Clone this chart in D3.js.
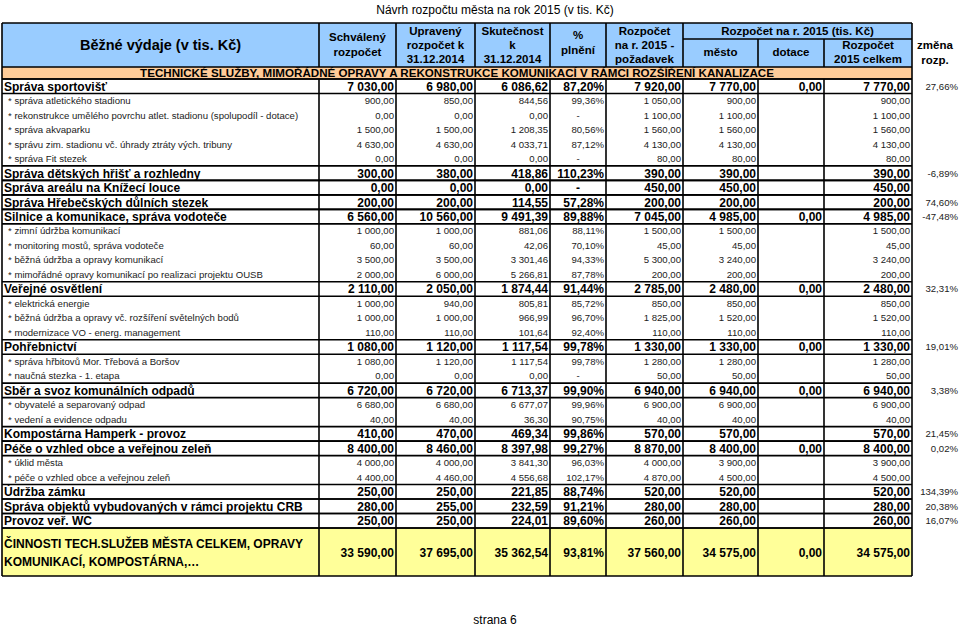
<!DOCTYPE html>
<html><head><meta charset="utf-8">
<script src="https://cdn.jsdelivr.net/npm/d3@7"></script>
<style>body{margin:0;background:#fff}svg{display:block;font-family:"Liberation Sans",Arial,Helvetica,sans-serif}</style>
</head><body><svg id="c" width="960" height="626"></svg>
<script>
// ---------------- DATA ----------------
const pageTitle = "Návrh rozpočtu města na rok 2015 (v tis. Kč)";
const sectionTitle = "TECHNICKÉ SLUŽBY, MIMOŘÁDNÉ OPRAVY A REKONSTRUKCE KOMUNIKACÍ V RÁMCI ROZŠÍŘENÍ KANALIZACE";
const footerText = "strana 6";
const mainHeader = "Běžné výdaje (v tis. Kč)";
const colHeaders = [
  ["Schválený", "rozpočet"],
  ["Upravený", "rozpočet k", "31.12.2014"],
  ["Skutečnost", "k", "31.12.2014"],
  ["%", "plnění"],
  ["Rozpočet", "na r. 2015 -", "požadavek"]
];
const groupHeader = "Rozpočet na r. 2015 (tis. Kč)";
const subHeaders = [["město"], ["dotace"], ["Rozpočet", "2015 celkem"]];
const changeHeader = ["změna", "rozp."];

const labels = [
  "Správa sportovišť",
  "* správa atletického stadionu",
  "* rekonstrukce umělého povrchu atlet. stadionu (spolupodíl - dotace)",
  "* správa akvaparku",
  "* správu zim. stadionu vč. úhrady ztráty  vých. tribuny",
  "* správa Fit stezek",
  "Správa dětských hřišť a rozhledny",
  "Správa areálu na Knížecí louce",
  "Správa Hřebečských důlních stezek",
  "Silnice a komunikace, správa vodoteče",
  "* zimní údržba komunikací",
  "* monitoring mostů, správa vodoteče",
  "* běžná údržba a opravy komunikací",
  "* mimořádné opravy komunikací po realizaci projektu OUSB",
  "Veřejné osvětlení",
  "* elektrická energie",
  "* běžná údržba a opravy vč. rozšíření světelných bodů",
  "* modernizace VO - energ. management",
  "Pohřebnictví",
  "* správa hřbitovů  Mor. Třebová a Boršov",
  "* naučná stezka - 1. etapa",
  "Sběr a svoz komunálních odpadů",
  "* obyvatelé a separovaný odpad",
  "* vedení a evidence odpadu",
  "Kompostárna Hamperk - provoz",
  "Péče o vzhled obce a veřejnou zeleň",
  "* úklid města",
  "* péče o vzhled obce a veřejnou zeleň",
  "Údržba zámku",
  "Správa objektů vybudovaných v rámci projektu CRB",
  "Provoz veř. WC"
];
const isGroup = [1,0,0,0,0,0,1,1,1,1,0,0,0,0,1,0,0,0,1,0,0,1,0,0,1,1,0,0,1,1,1];
const schvaleny  = [7030,900,0,1500,4630,0,300,0,200,6560,1000,60,3500,2000,2110,1000,1000,110,1080,1080,0,6720,6680,40,410,8400,4000,4400,250,280,250];
const upraveny   = [6980,850,0,1500,4630,0,380,0,200,10560,1000,60,3500,6000,2050,940,1000,110,1120,1120,0,6720,6680,40,470,8460,4000,4460,250,255,250];
const skutecnost = [6086.62,844.56,0,1208.35,4033.71,0,418.86,0,114.55,9491.39,881.06,42.06,3301.46,5266.81,1874.44,805.81,966.99,101.64,1117.54,1117.54,0,6713.37,6677.07,36.30,469.34,8397.98,3841.30,4556.68,221.85,232.59,224.01];
const plneni     = [87.20,99.36,null,80.56,87.12,null,110.23,null,57.28,89.88,88.11,70.10,94.33,87.78,91.44,85.72,96.70,92.40,99.78,99.78,null,99.90,99.96,90.75,99.86,99.27,96.03,102.17,88.74,91.21,89.60];
const pozadavek  = [7920,1050,1100,1560,4130,80,390,450,200,7045,1500,45,5300,200,2785,850,1825,110,1330,1280,50,6940,6900,40,570,8870,4000,4870,520,280,260];
const mesto      = [7770,900,1100,1560,4130,80,390,450,200,4985,1500,45,3240,200,2480,850,1520,110,1330,1280,50,6940,6900,40,570,8400,3900,4500,520,280,260];
const dotace     = [0,null,null,null,null,null,null,null,null,0,null,null,null,null,0,null,null,null,0,null,null,0,null,null,null,0,null,null,null,null,null];
const celkem     = [7770,900,1100,1560,4130,80,390,450,200,4985,1500,45,3240,200,2480,850,1520,110,1330,1280,50,6940,6900,40,570,8400,3900,4500,520,280,260];
const zmena      = [27.66,null,null,null,null,null,-6.89,null,74.60,-47.48,null,null,null,null,32.31,null,null,null,19.01,null,null,3.38,null,null,21.45,0.02,null,null,134.39,20.38,16.07];
const totalLabel = ["ČINNOSTI TECH.SLUŽEB MĚSTA CELKEM, OPRAVY", "KOMUNIKACÍ, KOMPOSTÁRNA,…"];
const totalValues = [33590, 37695, 35362.54, 93.81, 37560, 34575, 0, 34575];

// ---------------- LAYOUT ----------------
const svg = d3.select("#c");
const cz = d3.formatLocale({decimal: ",", thousands: "\u00a0", grouping: [3], currency: ["", ""], minus: "-"});
const fNum = cz.format(",.2f");
const fPct = v => cz.format(",.2f")(v) + "%";

const colKeys = ["label","schvaleny","upraveny","skutecnost","plneni","pozadavek","mesto","dotace","celkem","end"];
const xEdge = d3.scaleOrdinal().domain(colKeys).range([2,319,396,475,550,606,683,758,824,912]);
const left = k => xEdge(k);
const right = k => xEdge(colKeys[colKeys.indexOf(k)+1]);
const mid = k => (left(k)+right(k))/2;

const headTop = 23, headSplit = 39, bandTop = 67, bodyTop = 79, bodyBottom = 528, totalBottom = 576;
const y = d3.scaleBand().domain(d3.range(labels.length)).range([bodyTop, bodyBottom]);

const BLUE = "#99CCFF", ORANGE = "#FFCC99", YELLOW = "#FFFF99";
const tableL = xEdge("label"), tableR = xEdge("end");
const FS_B = 12, FS_S = 9.6;

// backgrounds
svg.append("rect").attr("x", tableL).attr("y", headTop).attr("width", tableR-tableL).attr("height", bandTop-headTop).attr("fill", BLUE);
svg.append("rect").attr("x", tableL).attr("y", bandTop).attr("width", tableR-tableL).attr("height", bodyTop-bandTop).attr("fill", ORANGE);
svg.append("rect").attr("x", tableL).attr("y", bodyBottom).attr("width", tableR-tableL).attr("height", totalBottom-bodyBottom).attr("fill", YELLOW);

// title / footer
svg.append("text").attr("x", 495).attr("y", 14).attr("text-anchor", "middle").attr("font-size", 12).text(pageTitle);
svg.append("text").attr("x", 495).attr("y", 624).attr("text-anchor", "middle").attr("font-size", 12).text(footerText);

// header texts
const hdr = svg.append("g").attr("font-weight", "bold").attr("font-size", 11.5).attr("text-anchor", "middle");
hdr.append("text").attr("x", mid("label")).attr("y", 50).attr("font-size", 14.5).text(mainHeader);
const lineYs = {2: [41, 56], 3: [35, 49, 63]};
colHeaders.forEach((lines, i) => {
  const k = colKeys[i+1];
  const ys = k === "plneni" ? [39, 54] : lineYs[lines.length];
  lines.forEach((t, j) => hdr.append("text").attr("x", mid(k)).attr("y", ys[j]).text(t));
});
hdr.append("text").attr("x", (left("mesto")+right("celkem"))/2).attr("y", 35).text(groupHeader);
subHeaders.forEach((lines, i) => {
  const k = ["mesto","dotace","celkem"][i];
  const ys = lines.length === 1 ? [56] : [49, 63];
  lines.forEach((t, j) => hdr.append("text").attr("x", mid(k)).attr("y", ys[j]).text(t));
});
changeHeader.forEach((t, j) => hdr.append("text").attr("x", 935).attr("y", [49, 64][j]).text(t));

// section band
svg.append("text").attr("x", (tableL+tableR)/2).attr("y", bodyTop-2).attr("text-anchor", "middle")
  .attr("font-weight", "bold").attr("font-size", 11.6).text(sectionTitle);

// body rows
const numCols = [["schvaleny", schvaleny], ["upraveny", upraveny], ["skutecnost", skutecnost], ["plneni", plneni],
                 ["pozadavek", pozadavek], ["mesto", mesto], ["dotace", dotace], ["celkem", celkem]];
const rows = svg.append("g").selectAll("g").data(labels).join("g")
  .attr("transform", (d, i) => `translate(0,${y(i) + y.bandwidth()/2})`)
  .attr("font-weight", (d, i) => isGroup[i] ? "bold" : "normal")
  .attr("font-size", (d, i) => isGroup[i] ? FS_B : FS_S)
  .attr("fill", (d, i) => isGroup[i] ? "#000" : "#222");
const dyOf = i => isGroup[i] ? 4.4 : 3.4;
rows.append("text").attr("x", (d, i) => isGroup[i] ? tableL + 2 : tableL + 6)
  .attr("dy", (d, i) => dyOf(i)).text(d => d);
numCols.forEach(([k, arr]) => {
  rows.append("text")
    .attr("x", (d, i) => (k === "plneni" && arr[i] === null) ? mid(k) : right(k) - 2)
    .attr("text-anchor", (d, i) => (k === "plneni" && arr[i] === null) ? "middle" : "end")
    .attr("dy", (d, i) => dyOf(i))
    .text((d, i) => arr[i] === null ? (k === "plneni" ? "-" : "") : (k === "plneni" ? fPct(arr[i]) : fNum(arr[i])));
});
rows.append("text").attr("x", 958).attr("text-anchor", "end").attr("dy", 3.4)
  .attr("font-weight", "normal").attr("font-size", FS_S).attr("fill", "#222")
  .text((d, i) => zmena[i] === null ? "" : fPct(zmena[i]));

// total row
const tot = svg.append("g").attr("font-weight", "bold").attr("font-size", FS_B);
totalLabel.forEach((t, j) => tot.append("text").attr("x", tableL + 2).attr("y", [548, 566][j]).text(t));
totalValues.forEach((v, i) => {
  const k = colKeys[i+1];
  tot.append("text").attr("x", right(k) - 2).attr("y", 557).attr("text-anchor", "end")
    .text(k === "plneni" ? fPct(v) : fNum(v));
});

// grid lines
const grid = svg.append("g").attr("stroke", "#000").attr("stroke-width", 1.6).attr("fill", "none");
const hline = (x1, x2, yy) => grid.append("line").attr("x1", x1).attr("x2", x2).attr("y1", yy).attr("y2", yy);
const vline = (xx, y1, y2) => grid.append("line").attr("x1", xx).attr("x2", xx).attr("y1", y1).attr("y2", y2);
colKeys.forEach(k => {
  const xx = xEdge(k);
  if (k === "label" || k === "end") { vline(xx, headTop, totalBottom); return; }
  const topY = (k === "dotace" || k === "celkem") ? headSplit : headTop;
  vline(xx, topY, bandTop);
  vline(xx, bodyTop, totalBottom);
});
hline(tableL, tableR, headTop);
hline(left("mesto"), tableR, headSplit);
hline(tableL, tableR, bandTop);
hline(tableL, tableR, bodyTop);
labels.forEach((d, i) => { if (isGroup[i]) { hline(tableL, tableR, y(i)); hline(tableL, tableR, y(i) + y.bandwidth()); } });
hline(tableL, tableR, bodyBottom);
hline(tableL, tableR, totalBottom);
</script></body></html>
